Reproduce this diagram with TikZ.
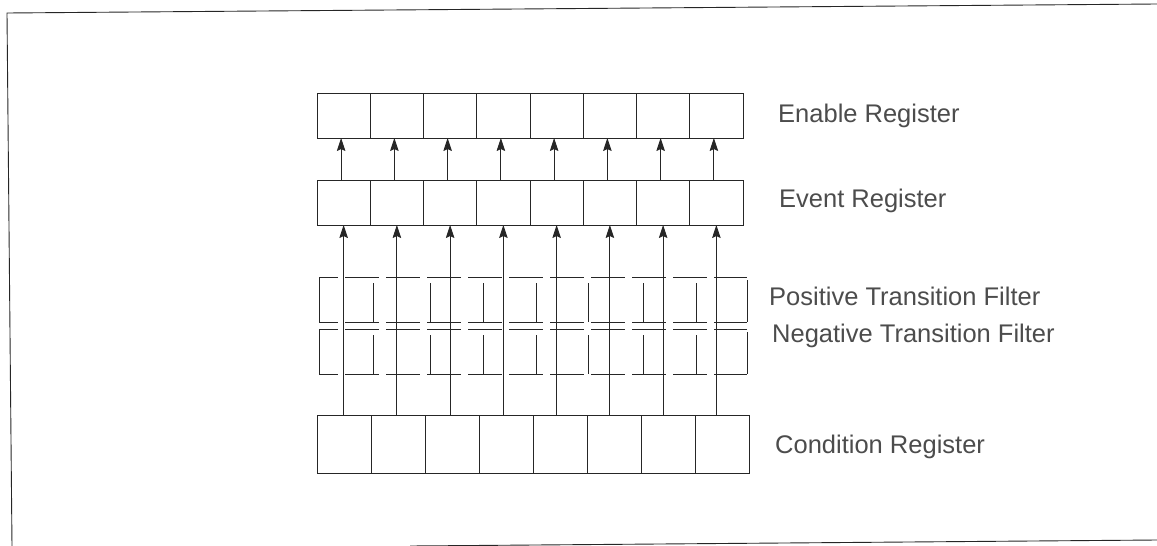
\documentclass[tikz,border=0pt]{standalone}
\usepackage{fontspec}
\setmainfont{Liberation Sans}
\usetikzlibrary{arrows.meta}
\begin{document}
\begin{tikzpicture}[x=1pt,y=-1pt,
  ln/.style={line width=0.9pt, draw=black!85},
  cell/.style={ln, rectangle, minimum height=45pt, minimum width=53.25pt, inner sep=0pt, outer sep=0pt, anchor=north west},
  ccell/.style={cell, minimum height=58pt, minimum width=54pt},
  arr/.style={ln, -{Stealth[width=8.5pt,length=13pt,inset=2pt]}},
  fline/.style={ln, dash pattern=on 34pt off 7pt, dash phase=15pt},
  lbl/.style={anchor=base west, inner sep=0pt, font=\fontsize{25.5}{30}\selectfont, text=black!70}]
\useasboundingbox (0,0) rectangle (1157,546);
% frame
\draw[ln] (1157,4) -- (7,13) -- (12,546);
\draw[ln] (410,546) -- (1157,540);
% registers
\foreach \i in {1,...,8} {
  \node[cell] (n\i) at ({317+53.25*(\i-1)},93) {};
  \node[cell] (e\i) at ({317+53.25*(\i-1)},180) {};
  \node[ccell] (c\i) at ({317+54*(\i-1)},415) {};
}
% transition filters
\foreach \t in {277,329} {
  \draw[fline] (319,\t) -- (747,\t);
  \draw[fline] (319,{\t+45}) -- (747,{\t+45});
  \draw[ln] (319,\t) -- (319,{\t+45});
  \draw[ln] (747,{\t+3}) -- (747,{\t+45});
  \foreach \x in {373,430,483,536,588,643,696}
    \draw[ln] (\x,{\t+6}) -- (\x,{\t+45});
}
% arrows
\foreach \i in {1,...,8} {
  \draw[arr] (e\i.south |- c\i.north) -- (e\i.south);
  \draw[arr] ([xshift=-2.5pt]e\i.north) -- ([xshift=-2.5pt]n\i.south);
}
% labels
\node[lbl] (ln1) at (778,122) {Enable Register};
\node[lbl] (ln2) at (779,207) {Event Register};
\node[lbl] (ln3) at (769,305) {Positive Transition Filter};
\node[lbl] (ln4) at (772,342) {Negative Transition Filter};
\node[lbl] (ln5) at (775,453) {Condition Register};
\end{tikzpicture}
\end{document}
